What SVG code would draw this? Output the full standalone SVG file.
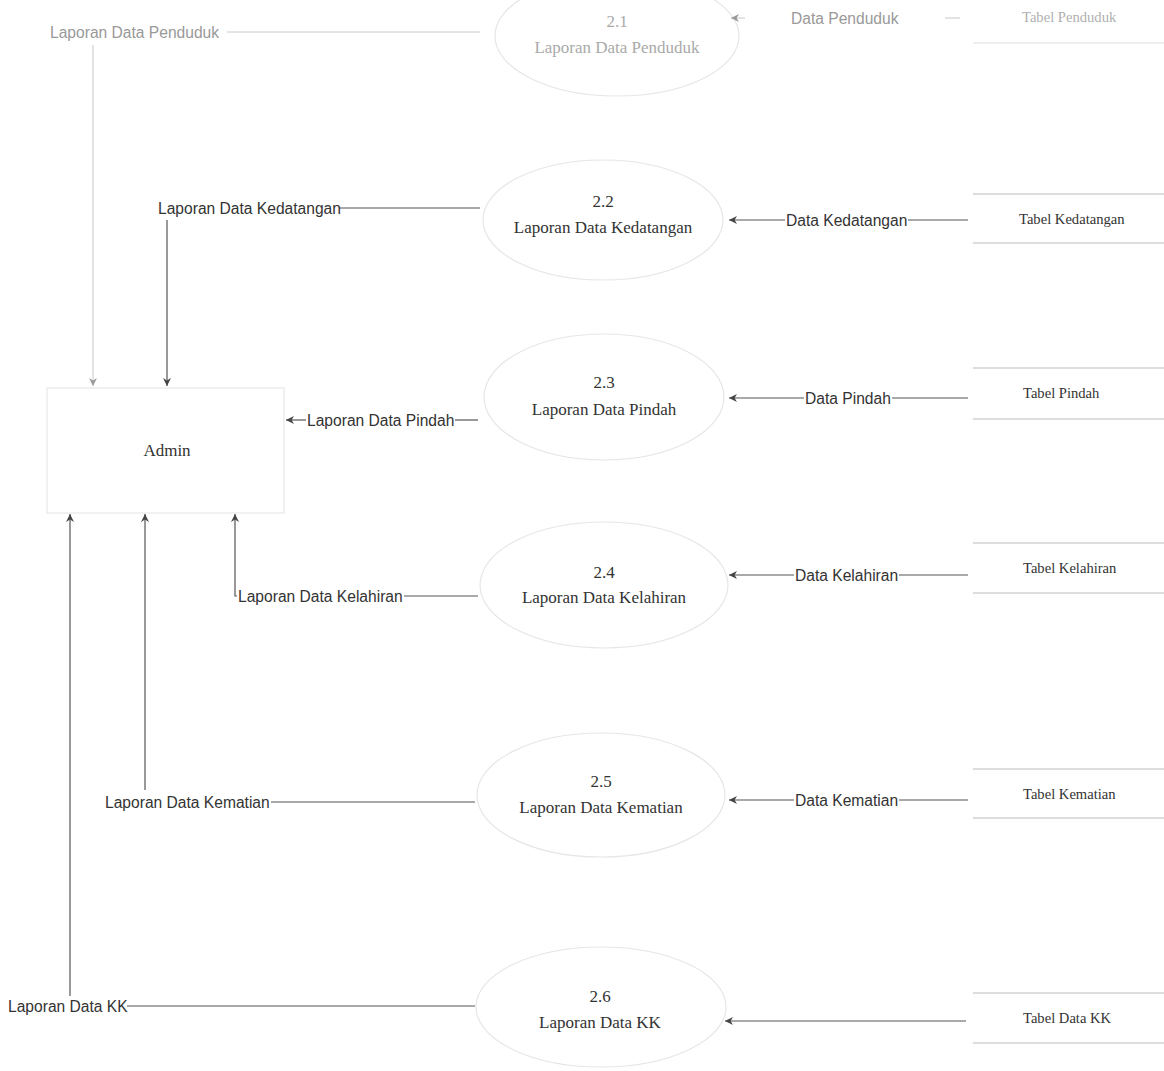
<svg xmlns="http://www.w3.org/2000/svg" width="1164" height="1071" viewBox="0 0 1164 1071">
<defs>
<marker id="ah" viewBox="0 0 10 10" refX="10" refY="5" markerWidth="10" markerHeight="8" markerUnits="userSpaceOnUse" orient="auto">
<path d="M0,0 L10,5 L0,10 L3,5 Z" fill="#444"/>
</marker>
<marker id="ahf" viewBox="0 0 10 10" refX="10" refY="5" markerWidth="10" markerHeight="8" markerUnits="userSpaceOnUse" orient="auto">
<path d="M0,0 L10,5 L0,10 L3,5 Z" fill="#999"/>
</marker>
</defs>
<style>
.bg{fill:#ffffff}
.flow{fill:none;stroke:#555;stroke-width:1.2}
.flowf{fill:none;stroke:#c8c8c8;stroke-width:1}
.lbl{font-family:"Liberation Sans","Open Sans",sans-serif;font-size:15.6px;fill:#333}
.lblf{font-family:"Liberation Sans","Open Sans",sans-serif;font-size:15.6px;fill:#999}
.proc{fill:none;stroke:#e6e6e6;stroke-width:1.2}
.ptxt{font-family:"Liberation Serif","Times New Roman",serif;font-size:17px;fill:#333;text-anchor:middle}
.ptxtf{font-family:"Liberation Serif","Times New Roman",serif;font-size:17px;fill:#aaa;text-anchor:middle}
.store{stroke:#bbb;stroke-width:1}
.storef{stroke:#ddd;stroke-width:1}
.stxt{font-family:"Liberation Serif","Times New Roman",serif;font-size:14.6px;fill:#333}
.stxtf{font-family:"Liberation Serif","Times New Roman",serif;font-size:14.6px;fill:#b0b0b0}
.ent{fill:none;stroke:#e8e8e8;stroke-width:1.2}
.etxt{font-family:"Liberation Serif","Times New Roman",serif;font-size:17px;fill:#333;text-anchor:middle}
</style>
<rect class="bg" x="0" y="0" width="1164" height="1071"/>

<g id="admin">
<rect class="ent" x="47" y="388" width="237" height="125"/>
<text class="etxt" x="167" y="456">Admin</text>
</g>

<g id="p21">
<ellipse class="proc" cx="617" cy="36" rx="122" ry="60" stroke="#f3f3f3"/>
<text class="ptxtf" x="617" y="27">2.1</text>
<text class="ptxtf" x="617" y="53">Laporan Data Penduduk</text>
</g>
<g id="p22">
<ellipse class="proc" cx="603" cy="220" rx="120" ry="60"/>
<text class="ptxt" x="603" y="207">2.2</text>
<text class="ptxt" x="603" y="233">Laporan Data Kedatangan</text>
</g>
<g id="p23">
<ellipse class="proc" cx="604" cy="397" rx="120" ry="63"/>
<text class="ptxt" x="604" y="388">2.3</text>
<text class="ptxt" x="604" y="415">Laporan Data Pindah</text>
</g>
<g id="p24">
<ellipse class="proc" cx="604" cy="585" rx="124" ry="63"/>
<text class="ptxt" x="604" y="578">2.4</text>
<text class="ptxt" x="604" y="603">Laporan Data Kelahiran</text>
</g>
<g id="p25">
<ellipse class="proc" cx="601" cy="795" rx="124" ry="62"/>
<text class="ptxt" x="601" y="787">2.5</text>
<text class="ptxt" x="601" y="813">Laporan Data Kematian</text>
</g>
<g id="p26">
<ellipse class="proc" cx="601" cy="1007" rx="125" ry="60"/>
<text class="ptxt" x="600" y="1002">2.6</text>
<text class="ptxt" x="600" y="1028">Laporan Data KK</text>
</g>

<g id="s1">
<line class="storef" x1="973" y1="43" x2="1164" y2="43"/>
<text class="stxtf" x="1022" y="22">Tabel Penduduk</text>
</g>
<g id="s2">
<line class="store" x1="973" y1="194" x2="1164" y2="194"/>
<line class="store" x1="973" y1="243" x2="1164" y2="243"/>
<text class="stxt" x="1019" y="224">Tabel Kedatangan</text>
</g>
<g id="s3">
<line class="store" x1="973" y1="368" x2="1164" y2="368"/>
<line class="store" x1="973" y1="419" x2="1164" y2="419"/>
<text class="stxt" x="1023" y="398">Tabel Pindah</text>
</g>
<g id="s4">
<line class="store" x1="973" y1="543" x2="1164" y2="543"/>
<line class="store" x1="973" y1="593" x2="1164" y2="593"/>
<text class="stxt" x="1023" y="573">Tabel Kelahiran</text>
</g>
<g id="s5">
<line class="store" x1="973" y1="769" x2="1164" y2="769"/>
<line class="store" x1="973" y1="818" x2="1164" y2="818"/>
<text class="stxt" x="1023" y="799">Tabel Kematian</text>
</g>
<g id="s6">
<line class="store" x1="973" y1="993" x2="1164" y2="993"/>
<line class="store" x1="973" y1="1043" x2="1164" y2="1043"/>
<text class="stxt" x="1023" y="1023">Tabel Data KK</text>
</g>

<g id="connectors">
<path class="flowf" d="M480,32 L227,32"/>
<path class="flowf" d="M93,45 L93,386" stroke="#999" marker-end="url(#ahf)"/>
<text class="lblf" x="50" y="38">Laporan Data Penduduk</text>

<path class="flow" d="M480,208 L339,208"/>
<path class="flow" d="M167,220 L167,386" marker-end="url(#ah)"/>
<text class="lbl" x="158" y="214">Laporan Data Kedatangan</text>

<path class="flow" d="M478,420 L455,420"/>
<path class="flow" d="M306,420 L286,420" marker-end="url(#ah)"/>
<text class="lbl" x="307" y="426">Laporan Data Pindah</text>

<path class="flow" d="M478,596 L404,596"/>
<path class="flow" d="M237,596 L235,596 L235,514" marker-end="url(#ah)"/>
<text class="lbl" x="238" y="602">Laporan Data Kelahiran</text>

<path class="flow" d="M475,802 L271,802"/>
<path class="flow" d="M145,790 L145,514" marker-end="url(#ah)"/>
<text class="lbl" x="105" y="808">Laporan Data Kematian</text>

<path class="flow" d="M475,1006 L127,1006"/>
<path class="flow" d="M70,996 L70,514" marker-end="url(#ah)"/>
<text class="lbl" x="8" y="1012">Laporan Data KK</text>

<path class="flowf" d="M960,18 L945,18"/>
<path class="flowf" d="M745,18 L731,18" stroke="#bbb" marker-end="url(#ahf)"/>
<text class="lblf" x="791" y="24">Data Penduduk</text>

<path class="flow" d="M968,220 L908,220"/>
<path class="flow" d="M785,220 L729,220" marker-end="url(#ah)"/>
<text class="lbl" x="786" y="226">Data Kedatangan</text>

<path class="flow" d="M968,398 L892,398"/>
<path class="flow" d="M804,398 L729,398" marker-end="url(#ah)"/>
<text class="lbl" x="805" y="404">Data Pindah</text>

<path class="flow" d="M968,575 L899,575"/>
<path class="flow" d="M794,575 L729,575" marker-end="url(#ah)"/>
<text class="lbl" x="795" y="581">Data Kelahiran</text>

<path class="flow" d="M968,800 L899,800"/>
<path class="flow" d="M794,800 L729,800" marker-end="url(#ah)"/>
<text class="lbl" x="795" y="806">Data Kematian</text>

<path class="flow" d="M966,1021 L725,1021" marker-end="url(#ah)"/>
</g>
</svg>
